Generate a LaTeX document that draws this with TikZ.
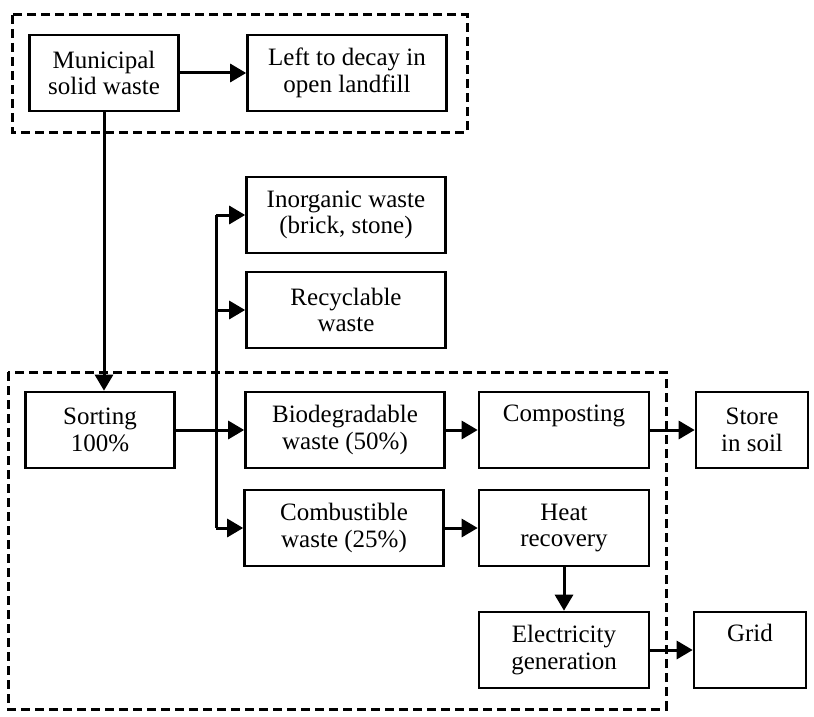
\documentclass[tikz,border=0pt]{standalone}
\usepackage{fontspec}
\setmainfont{Liberation Serif}
\usetikzlibrary{arrows.meta,positioning}
\begin{document}
\begin{tikzpicture}[x=1pt, y=-1pt, font=\fontsize{25}{26.5}\selectfont, >={Triangle[length=16pt,width=18pt]}]
	\tikzset{box/.style={draw, line width=2.6pt, minimum height=76pt, inner sep=0pt, align=center},
		narrow/.style={box, minimum width=149pt},
		wide/.style={box, minimum width=199pt},
		mid/.style={box, minimum width=170pt},
		small/.style={box, minimum width=112pt},
		flow/.style={->, line width=3pt},
		group/.style={line width=3pt, dash pattern=on 9pt off 5pt}}
	\useasboundingbox (0,0) rectangle (814,717);
	% stages
	\node[narrow] (muni) at (104,73) {Municipal\\solid waste};
	\node[wide] (decay) at (347,73) {Left to decay in\\open landfill};
	\node[wide] (inorg) at (346,215) {Inorganic waste\\(brick, stone)};
	\node[wide] (recyc) at (346,310) {Recyclable\\waste};
	\node[narrow] (sort) at (100,430) {Sorting\\100\%};
	\node[wide] (biod) at (345,430) {Biodegradable\\waste (50\%)};
	\node[mid] (comp) at (564,430) {Composting\\\strut};
	\node[small] (store) at (752,430) {Store\\in soil};
	\node[wide] (comb) at (344,528) {Combustible\\waste (25\%)};
	\node[mid] (heat) at (564,528) {Heat\\recovery};
	\node[mid] (elec) at (564,650) {Electricity\\generation};
	\node[small] (grid) at (750,650) {Grid\\\strut};
	\coordinate (split) at (216,430);
	% groups
	\draw[group] (12,15) rectangle (467,132);
	\draw[group] (8,372) rectangle (666,709);
	% flows
	\draw[flow] (muni) -- (decay);
	\draw[flow] (muni.south) -- (muni.south |- sort.north);
	\draw[flow] (sort) -- (biod);
	\draw[line width=3pt] (split |- inorg) -- (split |- comb);
	\draw[flow] (split |- inorg) -- (inorg);
	\draw[flow] (split |- recyc) -- (recyc);
	\draw[flow] (split |- comb) -- (comb);
	\draw[flow] (biod) -- (comp);
	\draw[flow] (comp) -- (store);
	\draw[flow] (comb) -- (heat);
	\draw[flow] (heat) -- (elec);
	\draw[flow] (elec) -- (grid);
\end{tikzpicture}
\end{document}
